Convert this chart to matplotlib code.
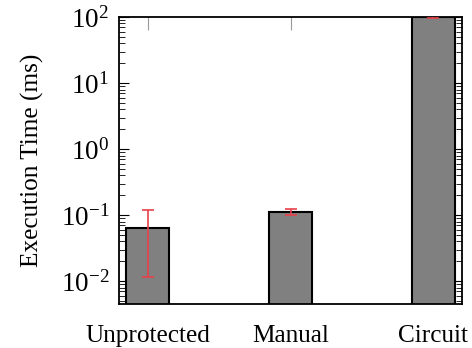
import matplotlib
matplotlib.use("Agg")
import matplotlib.pyplot as plt
from matplotlib.ticker import LogLocator, NullFormatter

plt.rcParams["font.family"] = ["Liberation Serif", "DejaVu Serif"]
plt.rcParams["mathtext.fontset"] = "stix"

# data
methods = ["Unprotected", "Manual", "Circuit"]
times_ms = [0.064, 0.11, 100.0]
err_low = [0.0525, 0.01, 3.0]
err_high = [0.055, 0.012, 3.0]

fig = plt.figure(figsize=(4.72, 3.48), dpi=100)
ax = fig.add_axes([0.252, 0.126, 0.727, 0.825])

x = range(len(methods))
ax.bar(x, times_ms, width=0.3, color="#808080", edgecolor="black", linewidth=1.5, zorder=2)
ax.errorbar(x, times_ms, yerr=[err_low, err_high], fmt="none", ecolor="#e8414a",
            elinewidth=1.2, capsize=4.5, capthick=1.2, zorder=3)

ax.set_yscale("log")
ax.set_ylim(4.5e-3, 100)
ax.set_xlim(-0.2, 2.2)
ax.set_axisbelow(True)

ax.set_xticks(list(x))
ax.set_xticklabels(methods, fontsize=18.2)
ax.yaxis.set_major_locator(LogLocator(base=10, numticks=10))
ax.yaxis.set_minor_locator(LogLocator(base=10, subs=range(2, 10), numticks=20))
ax.yaxis.set_minor_formatter(NullFormatter())
ax.tick_params(axis="y", which="major", direction="in", length=7, width=0.8,
               left=True, right=True, labelsize=19.5, pad=7)
ax.tick_params(axis="y", which="minor", direction="in", length=4, width=0.6,
               left=True, right=True)
ax.tick_params(axis="x", which="major", direction="in", length=9, width=0.8,
               color="0.6", top=True, bottom=True, pad=15)

for s in ax.spines.values():
    s.set_linewidth(1.3)

ax.set_ylabel("Execution Time (ms)", fontsize=18.2, labelpad=12)

fig.savefig("out.png", dpi=100)
